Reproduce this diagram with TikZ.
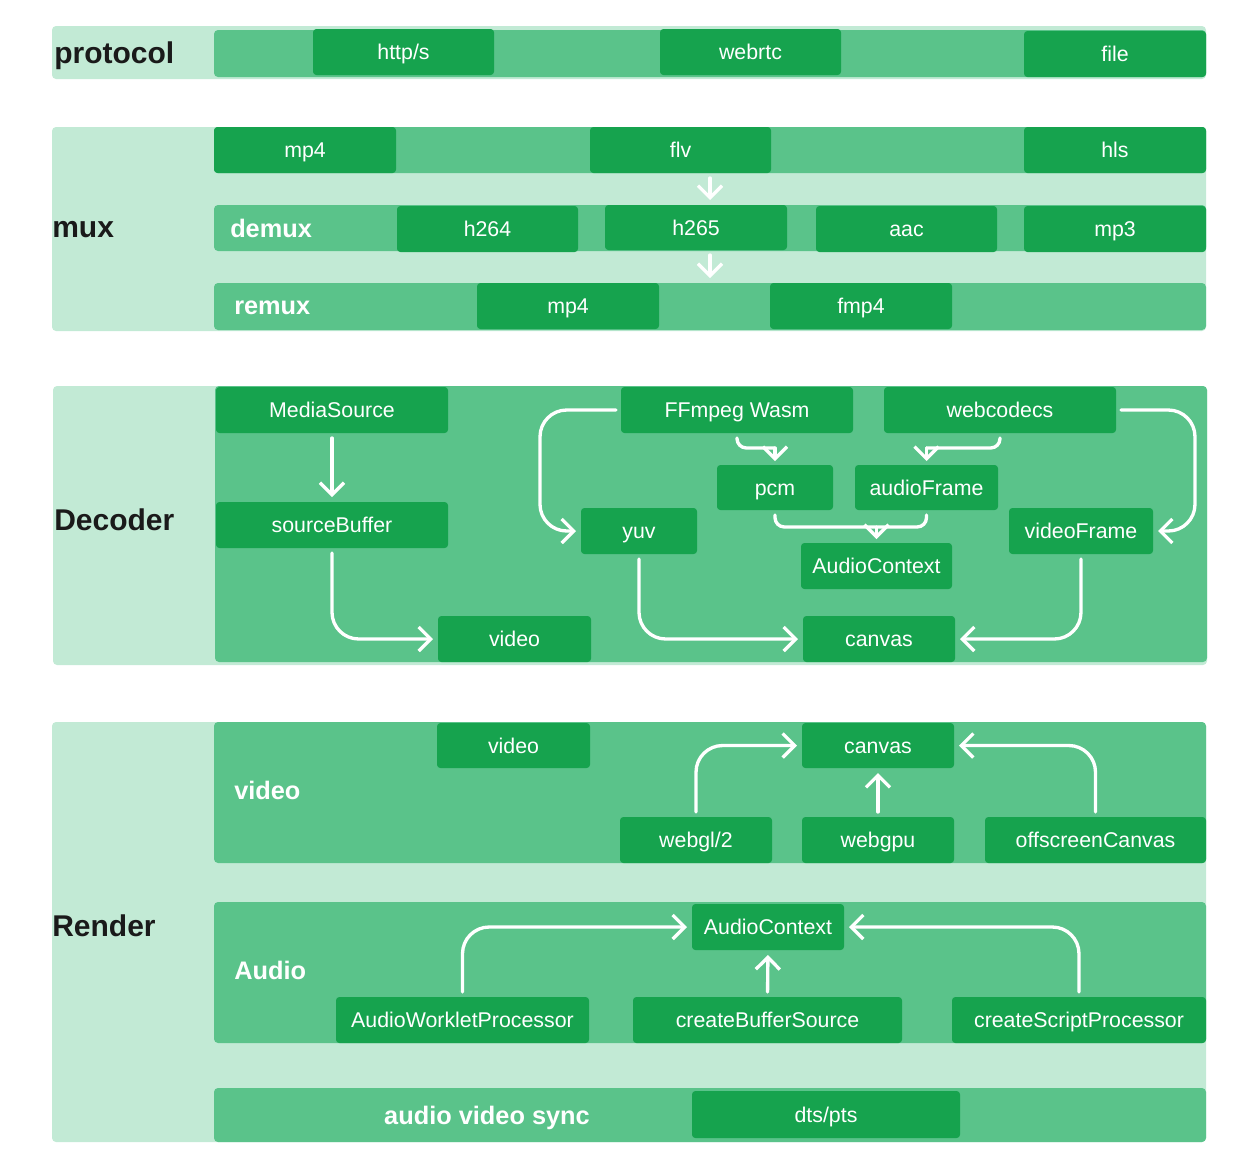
\documentclass[tikz,border=0pt]{standalone}
\usepackage{fontspec}
\setmainfont{Liberation Sans}
\usetikzlibrary{arrows.meta,calc}
\definecolor{light}{HTML}{C2EAD5}
\definecolor{mid}{HTML}{5AC38A}
\definecolor{dark}{HTML}{16A34E}
\definecolor{ink}{HTML}{1A1A1A}
\newcommand\bx[6]{\node[box,minimum width={(#4-#2)*0.75pt},minimum height={(#5-#3)*0.75pt}] (#1) at ({(#2+#4)/2},{(#3+#5)/2}) {#6};}
\tikzset{
  box/.style={fill=dark, rounded corners=2.5pt, text=white, inner sep=0pt, outer sep=0pt, font=\fontsize{16}{19}\selectfont, text height=11.46pt, text depth=0pt},
  cat/.style={anchor=west, text=ink, inner sep=0pt, font=\fontsize{22.5}{26}\selectfont\bfseries, text height=16.1pt, text depth=0pt},
  sub/.style={anchor=west, text=white, inner sep=0pt, font=\fontsize{19}{22}\selectfont\bfseries, text height=13.6pt, text depth=0pt},
  wline/.style={draw=white, line width=2.5pt, line cap=round, line join=round, shorten <=3.75pt},
  arr/.style={wline, rounded corners=20pt, shorten >=3.75pt, -{Straight Barb[length=9pt,width=18pt]}},
  tiponly/.style={arr, shorten <=0pt, shorten >=3pt},
  panel/.style={rounded corners=3pt},
}
\begin{document}
\begin{tikzpicture}[x=0.75pt,y=-0.75pt]
\useasboundingbox (0,0) rectangle (1260,1172);
% ---------- protocol ----------
\fill[light,panel] (52,26) rectangle (1206,79);
\fill[mid,panel] (214,30) rectangle (1206,77);
\node[cat] (protocol) at (54,53) {protocol};
\bx{http}{313}{29}{494}{75}{http/s}
\bx{webrtc}{660}{29}{841}{75}{webrtc}
\bx{file}{1024}{31}{1206}{77}{file}
% ---------- mux ----------
\fill[light,panel] (52,127) rectangle (1206,331);
\fill[mid,panel] (214,127) rectangle (1206,173);
\fill[mid,panel] (214,205) rectangle (1206,251);
\fill[mid,panel] (214,283) rectangle (1206,330);
\node[cat] (mux) at (52,227) {mux};
\node[sub] (demux) at (230,228) {demux};
\node[sub] (remux) at (234,305) {remux};
\bx{mpfour}{214}{127}{396}{173}{mp4}
\bx{flv}{590}{127}{771}{173}{flv}
\bx{hls}{1024}{127}{1206}{173}{hls}
\bx{hcodec}{397}{206}{578}{252}{h264}
\bx{hevc}{605}{205}{787}{250}{h265}
\bx{aac}{816}{206}{997}{252}{aac}
\bx{mpthree}{1024}{206}{1206}{252}{mp3}
\bx{rmp}{477}{283}{659}{329}{mp4}
\bx{fmp}{770}{283}{952}{329}{fmp4}
\coordinate (mcol) at (710,0);
\coordinate (remuxtop) at (710,283);
\draw[arr] (mcol |- flv.south) -- (mcol |- hevc.north);
\draw[arr] (mcol |- hevc.south) -- (remuxtop);
% ---------- Decoder ----------
\fill[light,panel] (53,386) rectangle (1207,665);
\fill[mid,panel] (215,386) rectangle (1207,662);
\node[cat] (decoder) at (54,520) {Decoder};
\bx{ms}{216}{387}{448}{433}{MediaSource}
\bx{sb}{216}{502}{448}{548}{sourceBuffer}
\bx{dvid}{438}{616}{591}{662}{video}
\bx{ff}{621}{387}{853}{433}{FFmpeg Wasm}
\bx{wc}{884}{387}{1116}{433}{webcodecs}
\bx{pcm}{717}{465}{833}{510}{pcm}
\bx{af}{855}{465}{998}{510}{audioFrame}
\bx{yuv}{581}{508}{697}{554}{yuv}
\bx{vf}{1009}{508}{1153}{554}{videoFrame}
\bx{dac}{801}{543}{952}{589}{AudioContext}
\bx{dcv}{803}{616}{955}{662}{canvas}
\draw[arr] (ms.south) -- (sb.north);
\draw[arr] (sb.south) |- (dvid.west);
\draw[arr] (ff.west) -- ++(-81,0) |- (yuv.west);
\draw[arr] (wc.east) -- ++(79,0) |- (vf.east);
\draw[arr] (yuv.south) |- (dcv.west);
\draw[arr] (vf.south) |- (dcv.east);
\coordinate (pa) at ($(pcm.north)+(0,-17)$);
\coordinate (pb) at ($(af.north)+(0,-17)$);
\coordinate (pc) at ($(af.south)+(0,17)$);
\draw[wline, rounded corners=7pt] (ff.south) |- (pa);
\draw[tiponly] (pa) -- (pcm.north);
\draw[wline, rounded corners=7pt] (wc.south) |- (pb);
\draw[tiponly] (pb) -- (af.north);
\draw[wline, rounded corners=7pt, shorten >=3.75pt] (pcm.south) |- (pc) -- (af.south);
\draw[tiponly] (dac.north |- pc) -- (dac.north);
% ---------- Render ----------
\fill[light,panel] (52,722) rectangle (1206,1142);
\fill[mid,panel] (214,722) rectangle (1206,863);
\fill[mid,panel] (214,902) rectangle (1206,1043);
\fill[mid,panel] (214,1088) rectangle (1206,1142);
\node[cat] (render) at (52,926) {Render};
\node[sub] (videolbl) at (234,790) {video};
\node[sub] (audiolbl) at (234,970) {Audio};
\node[text=white, inner sep=0pt, font=\fontsize{19}{22}\selectfont\bfseries, text height=13.6pt, text depth=0pt] (synclbl) at (487,1115) {audio video sync};
\bx{rvid}{437}{723}{590}{768}{video}
\bx{rcv}{802}{723}{954}{768}{canvas}
\bx{wgl}{620}{817}{772}{863}{webgl/2}
\bx{wgpu}{802}{817}{954}{863}{webgpu}
\bx{osc}{985}{817}{1206}{863}{offscreenCanvas}
\bx{rac}{692}{904}{844}{950}{AudioContext}
\bx{awp}{336}{997}{589}{1043}{AudioWorkletProcessor}
\bx{cbs}{633}{997}{902}{1043}{createBufferSource}
\bx{csp}{952}{997}{1206}{1043}{createScriptProcessor}
\bx{dts}{692}{1091}{960}{1138}{dts/pts}
\draw[arr] (wgl.north) |- (rcv.west);
\draw[arr] (wgpu.north) -- (rcv.south);
\draw[arr] (osc.north) |- (rcv.east);
\draw[arr] (awp.north) |- (rac.west);
\draw[arr] (cbs.north) -- (rac.south);
\draw[arr] (csp.north) |- (rac.east);
\end{tikzpicture}
\end{document}
